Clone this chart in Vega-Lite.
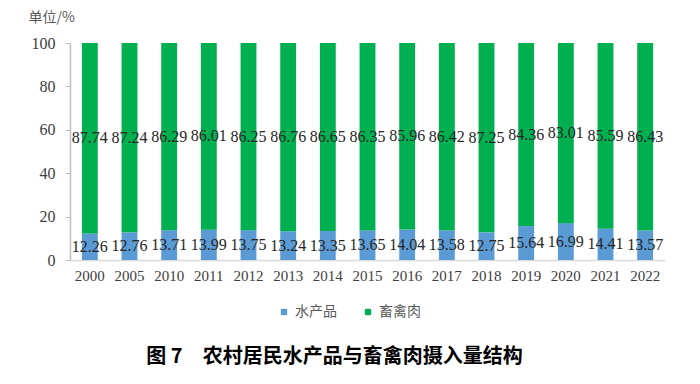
{
  "$schema": "https://vega.github.io/schema/vega-lite/v6.json",
  "autosize": {"type": "none"},
  "width": 595,
  "height": 217,
  "padding": {"left": 70, "top": 43, "right": 35, "bottom": 124},
  "background": "white",
  "config": {"view": {"stroke": null}},
  "title": {
    "text": "图 7　农村居民水产品与畜禽肉摄入量结构",
    "orient": "bottom",
    "anchor": "middle",
    "offset": 28,
    "dx": -33,
    "font": "Noto Sans CJK SC",
    "fontSize": 20,
    "fontWeight": "bold",
    "color": "#000000"
  },
  "data": {
    "values": [
      {"year": "2000", "type": "水产品", "order": 1, "value": 12.26},
      {"year": "2005", "type": "水产品", "order": 1, "value": 12.76},
      {"year": "2010", "type": "水产品", "order": 1, "value": 13.71},
      {"year": "2011", "type": "水产品", "order": 1, "value": 13.99},
      {"year": "2012", "type": "水产品", "order": 1, "value": 13.75},
      {"year": "2013", "type": "水产品", "order": 1, "value": 13.24},
      {"year": "2014", "type": "水产品", "order": 1, "value": 13.35},
      {"year": "2015", "type": "水产品", "order": 1, "value": 13.65},
      {"year": "2016", "type": "水产品", "order": 1, "value": 14.04},
      {"year": "2017", "type": "水产品", "order": 1, "value": 13.58},
      {"year": "2018", "type": "水产品", "order": 1, "value": 12.75},
      {"year": "2019", "type": "水产品", "order": 1, "value": 15.64},
      {"year": "2020", "type": "水产品", "order": 1, "value": 16.99},
      {"year": "2021", "type": "水产品", "order": 1, "value": 14.41},
      {"year": "2022", "type": "水产品", "order": 1, "value": 13.57},
      {"year": "2000", "type": "畜禽肉", "order": 2, "value": 87.74},
      {"year": "2005", "type": "畜禽肉", "order": 2, "value": 87.24},
      {"year": "2010", "type": "畜禽肉", "order": 2, "value": 86.29},
      {"year": "2011", "type": "畜禽肉", "order": 2, "value": 86.01},
      {"year": "2012", "type": "畜禽肉", "order": 2, "value": 86.25},
      {"year": "2013", "type": "畜禽肉", "order": 2, "value": 86.76},
      {"year": "2014", "type": "畜禽肉", "order": 2, "value": 86.65},
      {"year": "2015", "type": "畜禽肉", "order": 2, "value": 86.35},
      {"year": "2016", "type": "畜禽肉", "order": 2, "value": 85.96},
      {"year": "2017", "type": "畜禽肉", "order": 2, "value": 86.42},
      {"year": "2018", "type": "畜禽肉", "order": 2, "value": 87.25},
      {"year": "2019", "type": "畜禽肉", "order": 2, "value": 84.36},
      {"year": "2020", "type": "畜禽肉", "order": 2, "value": 83.01},
      {"year": "2021", "type": "畜禽肉", "order": 2, "value": 85.59},
      {"year": "2022", "type": "畜禽肉", "order": 2, "value": 86.43}
    ]
  },
  "transform": [
    {"stack": "value", "groupby": ["year"], "sort": [{"field": "order", "order": "ascending"}], "as": ["v0", "v1"]},
    {"calculate": "(datum.v0 + datum.v1) / 2", "as": "mid"}
  ],
  "encoding": {
    "x": {
      "field": "year",
      "type": "ordinal",
      "scale": {"paddingInner": 0.6, "paddingOuter": 0.3},
      "axis": {
        "title": null,
        "labelAngle": 0,
        "labelFont": "Liberation Serif",
        "labelFontSize": 15,
        "labelColor": "#404040",
        "labelPadding": 8,
        "ticks": false,
        "domainColor": "#d9d9d9",
        "domainWidth": 1.5
      }
    }
  },
  "layer": [
    {
      "mark": {"type": "bar"},
      "encoding": {
        "y": {
          "field": "v0",
          "type": "quantitative",
          "scale": {"domain": [0, 100]},
          "axis": {
            "values": [0, 20, 40, 60, 80, 100],
            "grid": false,
            "title": "单位/%",
            "titleAngle": 0,
            "titleAlign": "left",
            "titleBaseline": "middle",
            "titleX": -42,
            "titleY": -26,
            "titleFont": "Noto Sans CJK SC",
            "titleFontSize": 14,
            "titleFontWeight": "normal",
            "titleColor": "#595959",
            "labelFont": "Liberation Serif",
            "labelFontSize": 16,
            "labelColor": "#404040",
            "labelPadding": 10,
            "tickSize": 5,
            "tickColor": "#bfbfbf",
            "domainColor": "#bfbfbf",
            "domainWidth": 1.5
          }
        },
        "y2": {"field": "v1"},
        "color": {
          "field": "type",
          "type": "nominal",
          "scale": {"domain": ["水产品", "畜禽肉"], "range": ["#5b9bd5", "#00b050"]},
          "legend": {
            "title": null,
            "orient": "none",
            "legendX": 207,
            "legendY": 262,
            "direction": "horizontal",
            "symbolType": "square",
            "symbolSize": 40,
            "labelFont": "Noto Sans CJK SC",
            "labelFontSize": 14,
            "labelColor": "#595959",
            "columnPadding": 24
          }
        }
      }
    },
    {
      "mark": {"type": "text", "font": "Liberation Serif", "fontSize": 16, "color": "#262626", "baseline": "middle", "align": "center"},
      "encoding": {
        "y": {"field": "mid", "type": "quantitative"},
        "text": {"field": "value", "type": "quantitative", "format": ".2~f"}
      }
    }
  ]
}
